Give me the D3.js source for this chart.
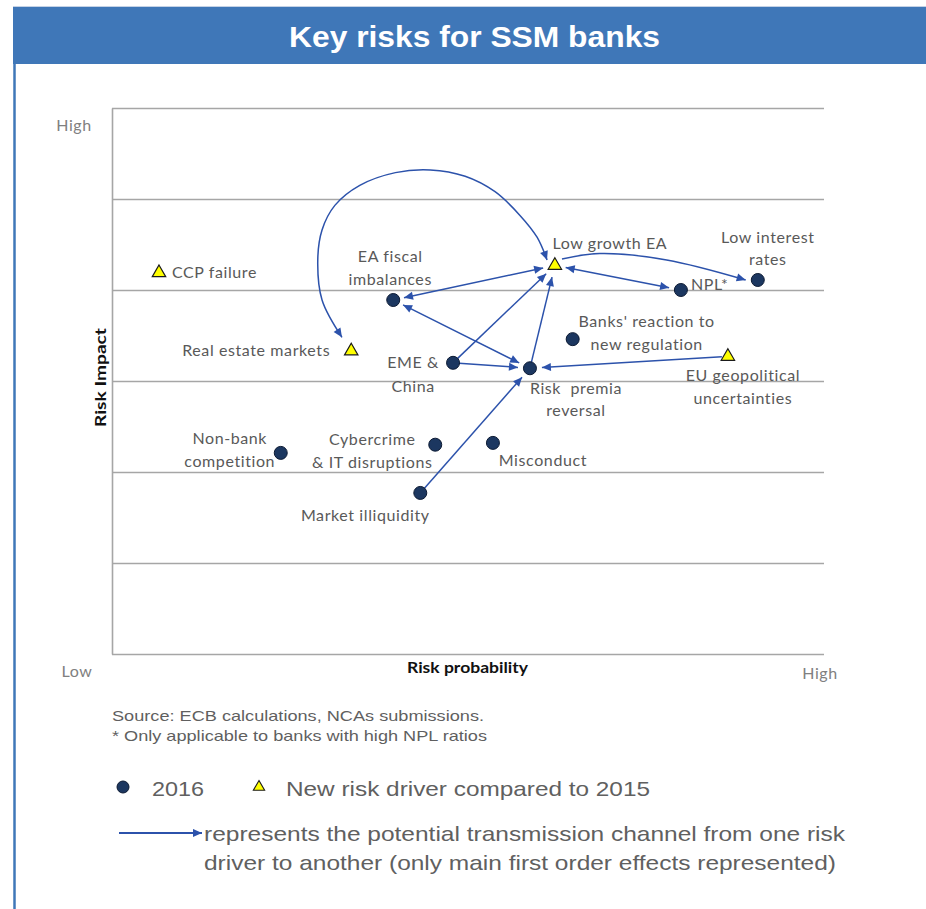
<!DOCTYPE html>
<html>
<head>
<meta charset="utf-8">
<script src="https://cdn.jsdelivr.net/npm/d3@7"></script>
<style>
  html, body { margin: 0; padding: 0; background: #ffffff; }
  svg { display: block; }
</style>
</head>
<body>
<svg id="chart" width="926" height="909"></svg>
<script>
// ---------------- DATA ----------------
const chartTitle = "Key risks for SSM banks";
const riskNames = [
  "CCP failure", "Real estate markets", "EA fiscal imbalances", "EME & China",
  "Risk premia reversal", "Low growth EA", "NPL*", "Low interest rates",
  "Banks' reaction to new regulation", "EU geopolitical uncertainties",
  "Non-bank competition", "Cybercrime & IT disruptions", "Misconduct", "Market illiquidity"
];
// Risk probability (x, 0 = low .. 10 = high)
const riskProbability = [0.66, 3.36, 3.95, 4.79, 5.87, 6.22, 7.99, 9.07, 6.47, 8.65, 2.37, 4.54, 5.35, 4.33];
// Risk impact (y, 0 = low .. 6 = high)
const riskImpact = [4.19, 3.33, 3.89, 3.20, 3.14, 4.27, 4.00, 4.11, 3.46, 3.27, 2.21, 2.30, 2.32, 1.77];
// true = new risk driver compared to 2015 (triangle)
const isNewDriver = [true, true, false, false, false, true, false, false, false, true, false, false, false, false];
// Text lines of each label
const labelLines = [
  ["CCP failure"], ["Real estate markets"], ["EA fiscal", "imbalances"], ["EME &", "China"],
  ["Risk  premia", "reversal"], ["Low growth EA"], ["NPL*"], ["Low interest", "rates"],
  ["Banks' reaction to", "new regulation"], ["EU geopolitical", "uncertainties"],
  ["Non-bank", "competition"], ["Cybercrime", "& IT disruptions"], ["Misconduct"], ["Market illiquidity"]
];
// Transmission channels (straight arrows), by risk index
const linkFrom = [2, 2, 3, 3, 4, 13, 9, 5];
const linkTo   = [5, 4, 5, 4, 5, 4, 4, 6];
const linkTwoWay = [true, true, false, false, false, false, false, true];
// Curved channel: Real estate markets <-> Low growth EA (waypoints, data units)
const arcProbability = [3.23, 2.95, 2.89, 2.95, 3.13, 3.48, 3.98, 4.47, 4.96, 5.38, 5.73, 5.97, 6.11];
const arcImpact      = [3.48, 3.89, 4.33, 4.66, 4.93, 5.15, 5.29, 5.32, 5.25, 5.08, 4.82, 4.58, 4.33];
// Curved channel: Low growth EA -> Low interest rates
const curveProbability = [6.32, 6.85, 7.79, 8.90];
const curveImpact      = [4.34, 4.40, 4.33, 4.11];
// Axis grid and end labels
const impactGrid = [0, 1, 2, 3, 4, 5, 6];
const axisEndLabels = { yHigh: "High", xLow: "Low", xHigh: "High" };
const xAxisTitle = "Risk probability";
const yAxisTitle = "Risk Impact";
const footnotes = ["Source: ECB calculations, NCAs submissions.", "* Only applicable to banks with high NPL ratios"];
const legendItems = ["2016", "New risk driver compared to 2015"];
const legendArrowText = ["represents the potential transmission channel from one risk",
                         "driver to another (only main first order effects represented)"];

// ---------------- LAYOUT (positions / styles) ----------------
const labelLayout = [
  {dx: 13, dy: [5], a: "start"},
  {dx: -21, dy: [5], a: "end"},
  {dx: -3, dy: [-38, -15], a: "middle"},
  {dx: -40, dy: [5, 29], a: "middle"},
  {dx: 46, dy: [26, 48], a: "middle"},
  {dx: 55, dy: [-16], a: "middle"},
  {dx: 10, dy: [0], a: "start"},
  {dx: 10, dy: [-37, -15], a: "middle"},
  {dx: 74, dy: [-12, 11], a: "middle"},
  {dx: 15, dy: [25, 48], a: "middle"},
  {dx: -51, dy: [-9, 14], a: "middle"},
  {dx: -63, dy: [0, 23], a: "middle"},
  {dx: 50, dy: [23], a: "middle"},
  {dx: -55, dy: [28], a: "middle"}
];

const svg = d3.select("#chart");
const plot = {left: 112, right: 824, top: 108, bottom: 654};
const x = d3.scaleLinear().domain([0, 10]).range([plot.left, plot.right]);
const y = d3.scaleLinear().domain([0, 6]).range([plot.bottom, plot.top]);

const blue = "#3f77b8";
const arrowBlue = "#2c52ab";
const labelColor = "#595959";
const labelFont = "Lato, 'Open Sans', sans-serif";

// Defs: arrowhead
const defs = svg.append("defs");
defs.append("marker")
  .attr("id", "arrow")
  .attr("viewBox", "0 0 10 10")
  .attr("refX", 10).attr("refY", 5)
  .attr("markerWidth", 11).attr("markerHeight", 9)
  .attr("markerUnits", "userSpaceOnUse")
  .attr("orient", "auto-start-reverse")
  .append("path").attr("d", "M0,0.5 L10,5 L0,9.5 Z").attr("fill", arrowBlue);

// Panel frame + title band
svg.append("line").attr("x1", 13).attr("x2", 926).attr("y1", 6.5).attr("y2", 6.5)
  .attr("stroke", "#c4d2e6").attr("stroke-width", 1);
svg.append("rect").attr("x", 13).attr("y", 7).attr("width", 913).attr("height", 57).attr("fill", blue);
svg.append("line").attr("x1", 14.5).attr("x2", 14.5).attr("y1", 64).attr("y2", 909)
  .attr("stroke", blue).attr("stroke-width", 2.5);
svg.append("text").attr("x", 289).attr("y", 47)
  .attr("font-family", "'Liberation Sans', Arial, sans-serif")
  .attr("font-weight", "bold").attr("font-size", 30)
  .attr("textLength", 371).attr("lengthAdjust", "spacingAndGlyphs")
  .attr("fill", "#ffffff")
  .text(chartTitle);

// Grid lines via axis
const grid = svg.append("g").attr("transform", `translate(${plot.left},0)`)
  .call(d3.axisLeft(y).tickValues(impactGrid).tickSize(-(plot.right - plot.left)).tickFormat(""));
grid.select(".domain").remove();
grid.selectAll(".tick line").attr("stroke", "#a6a6a6").attr("stroke-width", 1.6);
// left axis line
svg.append("g").attr("transform", `translate(${plot.left},0)`)
  .call(d3.axisLeft(y).tickValues([]).tickSizeOuter(0))
  .select(".domain").attr("stroke", "#a6a6a6").attr("stroke-width", 1.6);

// Axis end labels and titles
const endStyle = s => s.attr("font-family", labelFont).attr("font-size", 16).attr("letter-spacing", 0.6).attr("fill", "#808080");
endStyle(svg.append("text").attr("x", 74).attr("y", 131).attr("text-anchor", "middle").text(axisEndLabels.yHigh));
endStyle(svg.append("text").attr("x", 77).attr("y", 677).attr("text-anchor", "middle").text(axisEndLabels.xLow));
endStyle(svg.append("text").attr("x", 820).attr("y", 679).attr("text-anchor", "middle").text(axisEndLabels.xHigh));
svg.append("text").attr("x", 407).attr("y", 673)
  .attr("font-family", labelFont).attr("font-weight", "bold").attr("font-size", 16).attr("fill", "#111")
  .attr("textLength", 121).attr("lengthAdjust", "spacingAndGlyphs")
  .text(xAxisTitle);
svg.append("text").attr("transform", "translate(106,427) rotate(-90)")
  .attr("font-family", labelFont).attr("font-weight", "bold").attr("font-size", 16).attr("fill", "#111")
  .attr("textLength", 99).attr("lengthAdjust", "spacingAndGlyphs")
  .text(yAxisTitle);

// Points in pixel space
const pts = riskNames.map((n, i) => ({
  name: n, px: x(riskProbability[i]), py: y(riskImpact[i]), tri: isNewDriver[i],
  lines: labelLines[i], lay: labelLayout[i]
}));

// Straight arrows
const arrows = svg.append("g");
linkFrom.forEach((f, k) => {
  const s = pts[f], t = pts[linkTo[k]];
  const dx = t.px - s.px, dy = t.py - s.py, L = Math.hypot(dx, dy);
  const ux = dx / L, uy = dy / L;
  const g0 = linkTwoWay[k] ? 11 : 6, g1 = 12;
  arrows.append("line")
    .attr("x1", s.px + ux * g0).attr("y1", s.py + uy * g0)
    .attr("x2", t.px - ux * g1).attr("y2", t.py - uy * g1)
    .attr("stroke", arrowBlue).attr("stroke-width", 1.5)
    .attr("marker-end", "url(#arrow)")
    .attr("marker-start", linkTwoWay[k] ? "url(#arrow)" : null);
});

// Curved arrows
const curveLine = d3.line().x(d => x(d[0])).y(d => y(d[1])).curve(d3.curveCatmullRom.alpha(0.5));
arrows.append("path")
  .attr("d", curveLine(arcProbability.map((v, i) => [v, arcImpact[i]])))
  .attr("fill", "none").attr("stroke", arrowBlue).attr("stroke-width", 1.5)
  .attr("marker-start", "url(#arrow)").attr("marker-end", "url(#arrow)");
arrows.append("path")
  .attr("d", curveLine(curveProbability.map((v, i) => [v, curveImpact[i]])))
  .attr("fill", "none").attr("stroke", arrowBlue).attr("stroke-width", 1.5)
  .attr("marker-end", "url(#arrow)");

// Markers
const triSym = d3.symbol(d3.symbolTriangle, 78);
const mk = svg.append("g");
pts.forEach(p => {
  if (p.tri) {
    mk.append("path").attr("d", triSym()).attr("transform", `translate(${p.px},${p.py})`)
      .attr("fill", "#ffff00").attr("stroke", "#1a1a1a").attr("stroke-width", 1.2);
  } else {
    mk.append("circle").attr("cx", p.px).attr("cy", p.py).attr("r", 6.5)
      .attr("fill", "#1c3760").attr("stroke", "#0c1a33").attr("stroke-width", 1);
  }
});

// Labels
const lbl = svg.append("g").attr("font-family", labelFont).attr("font-size", 16)
  .attr("letter-spacing", 0.6).attr("fill", labelColor);
pts.forEach(p => {
  p.lines.forEach((ln, j) => {
    lbl.append("text").attr("x", p.px + p.lay.dx).attr("y", p.py + p.lay.dy[j])
      .attr("text-anchor", p.lay.a).attr("xml:space", "preserve").style("white-space", "pre").text(ln);
  });
});

// Footnotes
const fn = svg.append("g").attr("font-family", "'Liberation Sans', Arial, sans-serif").attr("font-size", 15).attr("fill", "#5f5f5f");
fn.append("text").attr("x", 112).attr("y", 721).attr("textLength", 372).attr("lengthAdjust", "spacingAndGlyphs").text(footnotes[0]);
fn.append("text").attr("x", 112).attr("y", 741).attr("textLength", 375).attr("lengthAdjust", "spacingAndGlyphs").text(footnotes[1]);

// Legend
const lg = svg.append("g").attr("font-family", "'Liberation Sans Narrow', 'Liberation Sans', Arial, sans-serif").attr("font-size", 21).attr("fill", "#606060");
lg.append("circle").attr("cx", 123).attr("cy", 787).attr("r", 6).attr("fill", "#1c3760").attr("stroke", "#0c1a33");
lg.append("text").attr("x", 152).attr("y", 796).attr("textLength", 52).attr("lengthAdjust", "spacingAndGlyphs").text(legendItems[0]);
lg.append("path").attr("d", d3.symbol(d3.symbolTriangle, 55)()).attr("transform", "translate(259,787)")
  .attr("fill", "#ffff00").attr("stroke", "#1a1a1a").attr("stroke-width", 1.1);
lg.append("text").attr("x", 286).attr("y", 796).attr("textLength", 364).attr("lengthAdjust", "spacingAndGlyphs").text(legendItems[1]);
lg.append("line").attr("x1", 119).attr("x2", 202).attr("y1", 833).attr("y2", 833)
  .attr("stroke", arrowBlue).attr("stroke-width", 2).attr("marker-end", "url(#arrow)");
lg.append("text").attr("x", 204).attr("y", 841).attr("textLength", 641).attr("lengthAdjust", "spacingAndGlyphs").text(legendArrowText[0]);
lg.append("text").attr("x", 204).attr("y", 870).attr("textLength", 632).attr("lengthAdjust", "spacingAndGlyphs").text(legendArrowText[1]);
</script>
</body>
</html>
